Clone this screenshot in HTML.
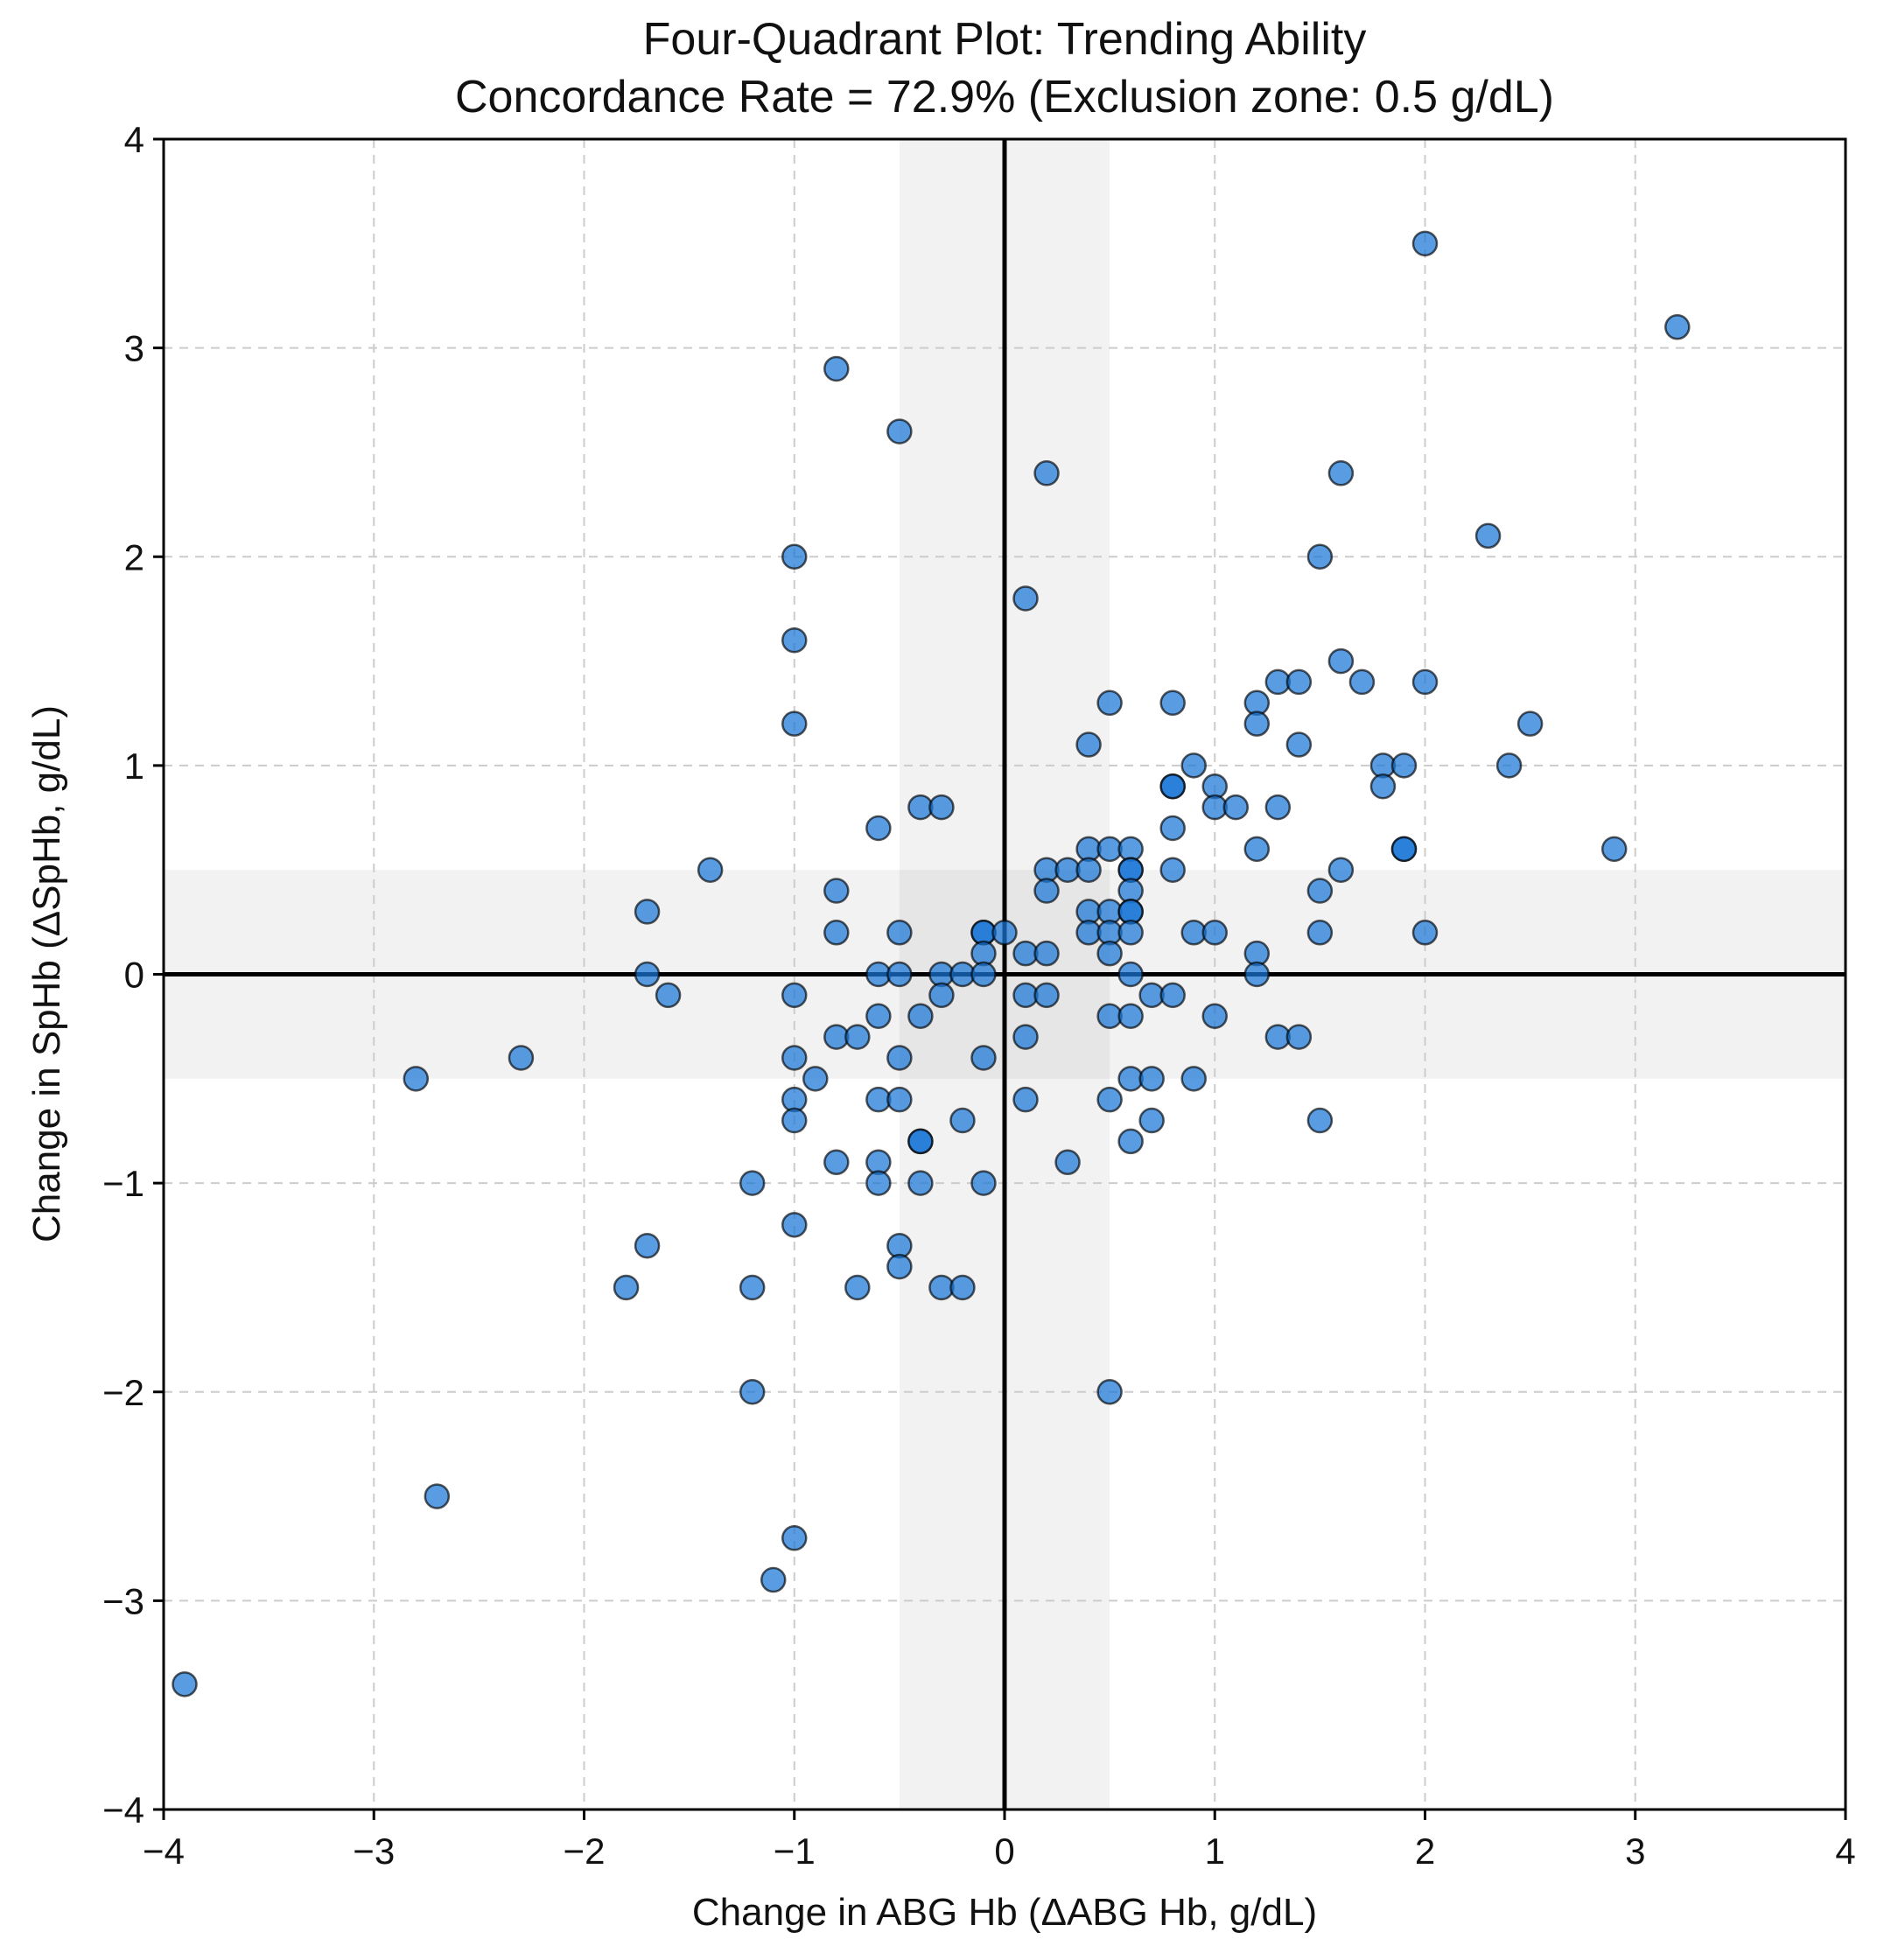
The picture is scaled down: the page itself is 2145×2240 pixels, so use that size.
<!DOCTYPE html>
<html><head><meta charset="utf-8"><style>
html,body{margin:0;padding:0;background:#fff}
svg{display:block}
text{font-family:"Liberation Sans",sans-serif;fill:#111}
</style></head><body>
<svg id="chart" width="2145" height="2240" viewBox="0 0 2145 2240" xmlns="http://www.w3.org/2000/svg">
<text x="1148" y="62" font-size="52" text-anchor="middle">Four-Quadrant Plot: Trending Ability</text>
<text x="1148" y="128" font-size="52" text-anchor="middle">Concordance Rate = 72.9% (Exclusion zone: 0.5 g/dL)</text>
<g id="plot"></g>
<text x="1148" y="2200" font-size="44" text-anchor="middle">Change in ABG Hb (ΔABG Hb, g/dL)</text>
<text transform="translate(68,1113) rotate(-90)" font-size="44" text-anchor="middle">Change in SpHb (ΔSpHb, g/dL)</text>
</svg>
<script>
const xTicks=[-4,-3,-2,-1,0,1,2,3,4];
const yTicks=[-4,-3,-2,-1,0,1,2,3,4];
const tickLabels=['\u22124','\u22123','\u22122','\u22121','0','1','2','3','4'];
const exclusionZone=0.5;
const deltaABG=[2.0,3.2,-0.8,-0.5,0.2,1.6,2.3,-1,1.5,0.1,-1,1.6,1.3,1.4,1.7,2.0,0.5,0.8,1.2,-1,1.2,2.5,0.4,1.4,0.9,1.8,1.9,2.4,0.8,0.8,1.0,1.8,-0.4,-0.3,1.0,1.1,1.3,-0.6,0.8,0.4,0.5,0.6,1.2,1.9,1.9,2.9,-1.4,0.2,0.3,0.4,0.6,0.6,0.8,1.6,-0.8,0.2,0.6,1.5,-1.7,0.4,0.5,0.6,0.6,-0.8,-0.5,-0.1,-0.1,0,0.4,0.5,0.6,0.9,1.0,1.5,2.0,-0.1,0.1,0.2,0.5,1.2,-1.7,-0.6,-0.5,-0.3,-0.2,-0.1,0.6,1.2,-1.6,-1,-0.3,0.1,0.2,0.7,0.8,-0.6,-0.4,0.5,0.6,1.0,-0.8,-0.7,0.1,1.3,1.4,-2.3,-1,-0.5,-0.1,-2.8,-0.9,0.6,0.7,0.9,-1,-0.6,-0.5,0.1,0.5,-1,-0.2,0.7,1.5,-0.4,-0.4,0.6,-0.8,-0.6,0.3,-1.2,-0.6,-0.4,-0.1,-1,-1.7,-0.5,-0.5,-1.8,-1.2,-0.7,-0.3,-0.2,-1.2,0.5,-2.7,-1,-1.1,-3.9];
const deltaSpHb=[3.5,3.1,2.9,2.6,2.4,2.4,2.1,2,2,1.8,1.6,1.5,1.4,1.4,1.4,1.4,1.3,1.3,1.3,1.2,1.2,1.2,1.1,1.1,1.0,1.0,1.0,1.0,0.9,0.9,0.9,0.9,0.8,0.8,0.8,0.8,0.8,0.7,0.7,0.6,0.6,0.6,0.6,0.6,0.6,0.6,0.5,0.5,0.5,0.5,0.5,0.5,0.5,0.5,0.4,0.4,0.4,0.4,0.3,0.3,0.3,0.3,0.3,0.2,0.2,0.2,0.2,0.2,0.2,0.2,0.2,0.2,0.2,0.2,0.2,0.1,0.1,0.1,0.1,0.1,0,0,0,0,0,0,0,0,-0.1,-0.1,-0.1,-0.1,-0.1,-0.1,-0.1,-0.2,-0.2,-0.2,-0.2,-0.2,-0.3,-0.3,-0.3,-0.3,-0.3,-0.4,-0.4,-0.4,-0.4,-0.5,-0.5,-0.5,-0.5,-0.5,-0.6,-0.6,-0.6,-0.6,-0.6,-0.7,-0.7,-0.7,-0.7,-0.8,-0.8,-0.8,-0.9,-0.9,-0.9,-1,-1,-1,-1,-1.2,-1.3,-1.3,-1.4,-1.5,-1.5,-1.5,-1.5,-1.5,-2,-2,-2.5,-2.7,-2.9,-3.4];

const L=187,R=2109,T=159,B=2068,xmin=-4,xmax=4,ymin=-4,ymax=4;
const X=v=>L+(v-xmin)/(xmax-xmin)*(R-L);
const Y=v=>B-(v-ymin)/(ymax-ymin)*(B-T);
const NS='http://www.w3.org/2000/svg';
const g=document.getElementById('plot');
function mk(tag,attrs,parent){const e=document.createElementNS(NS,tag);for(const k in attrs)e.setAttribute(k,attrs[k]);(parent||g).appendChild(e);return e;}

let e;
e=mk('rect',{x:X(-exclusionZone),y:T,width:X(exclusionZone)-X(-exclusionZone),height:B-T,fill:'rgba(128,128,128,0.1)'});


e=mk('rect',{x:L,y:Y(exclusionZone),width:R-L,height:Y(-exclusionZone)-Y(exclusionZone),fill:'rgba(128,128,128,0.1)'});



xTicks.forEach((t,i)=>{
  e=mk('line',{x1:X(t),x2:X(t),y1:T,y2:B,stroke:'#ccc','stroke-width':2,'stroke-dasharray':'10,8'});
  
  
  e=mk('line',{x1:X(t),x2:X(t),y1:B,y2:B+12,stroke:'#000','stroke-width':3});
  
  
  e=mk('text',{x:X(t),y:B+62,'font-size':42,'text-anchor':'middle'});
  e.textContent=tickLabels[i];
  
  
});
yTicks.forEach((t,i)=>{
  e=mk('line',{x1:L,x2:R,y1:Y(t),y2:Y(t),stroke:'#ccc','stroke-width':2,'stroke-dasharray':'10,8'});
  
  
  e=mk('line',{x1:L-12,x2:L,y1:Y(t),y2:Y(t),stroke:'#000','stroke-width':3});
  
  
  e=mk('text',{x:L-22,y:Y(t)+15,'font-size':42,'text-anchor':'end'});
  e.textContent=tickLabels[i];
  
  
});

e=mk('line',{x1:X(0),x2:X(0),y1:T,y2:B,stroke:'#000','stroke-width':5});


e=mk('line',{x1:L,x2:R,y1:Y(0),y2:Y(0),stroke:'#000','stroke-width':5});



deltaABG.forEach((xv,i)=>{
  e=mk('circle',{cx:X(xv),cy:Y(deltaSpHb[i]),r:13.5,fill:'rgba(25,118,215,0.72)',stroke:'rgba(0,0,0,0.65)','stroke-width':2.5});
  
  
});

e=mk('rect',{x:L,y:T,width:R-L,height:B-T,fill:'none',stroke:'#000','stroke-width':3});


</script>
</body></html>
